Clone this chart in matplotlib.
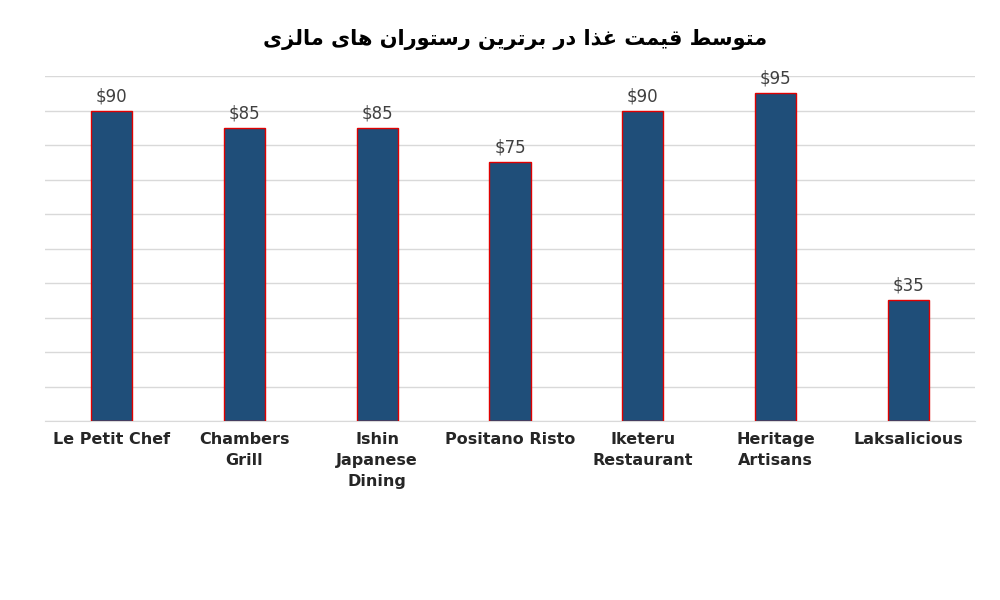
import unicodedata
import matplotlib.pyplot as plt

restaurants = ["Le Petit Chef", "Chambers\nGrill", "Ishin\nJapanese\nDining", "Positano Risto",
               "Iketeru\nRestaurant", "Heritage\nArtisans", "Laksalicious"]
prices = [90, 85, 85, 75, 90, 95, 35]
title = "متوسط قیمت غذا در برترین رستوران های مالزی"

RIGHT_ONLY = set("اآدذرزژو")


def _form(ch, kind):
    try:
        return unicodedata.lookup(unicodedata.name(ch) + " " + kind + " FORM")
    except KeyError:
        return ch


def shape(text):
    """Very small Arabic/Persian shaper, returns visual (LTR) order."""
    def joins(c):
        return "\u0600" <= c <= "\u06ff"
    out = []
    for i, ch in enumerate(text):
        if not joins(ch):
            out.append(ch)
            continue
        prev = text[i - 1] if i > 0 else ""
        nxt = text[i + 1] if i + 1 < len(text) else ""
        left = bool(prev) and joins(prev) and prev not in RIGHT_ONLY
        right = bool(nxt) and joins(nxt) and ch not in RIGHT_ONLY
        if left and right:
            out.append(_form(ch, "MEDIAL"))
        elif left:
            out.append(_form(ch, "FINAL"))
        elif right:
            out.append(_form(ch, "INITIAL"))
        else:
            out.append(_form(ch, "ISOLATED"))
    return "".join(out)[::-1]


fig = plt.figure(figsize=(10, 6), dpi=100)
ax = fig.add_axes([0.045, 0.298, 0.93, 0.575])
x = range(len(restaurants))
bars = ax.bar(x, prices, width=0.31, color="#1f4e79", edgecolor="#e00000", linewidth=1, zorder=3)
ax.bar_label(bars, labels=[f"${p}" for p in prices], padding=4, fontsize=12, color="#404040")
ax.set_ylim(0, 100)
ax.set_xlim(-0.5, len(restaurants) - 0.5)
ax.set_yticks(range(0, 101, 10))
ax.set_yticklabels([])
ax.tick_params(axis="y", length=0)
ax.tick_params(axis="x", length=0, pad=8)
ax.grid(axis="y", color="#d9d9d9", linewidth=1, zorder=0)
for s in ["top", "right", "left"]:
    ax.spines[s].set_visible(False)
ax.spines["bottom"].set_color("#d9d9d9")
ax.set_xticks(list(x))
ax.set_xticklabels(restaurants, fontsize=11.5, fontweight="bold", color="#262626", linespacing=1.5)

fig.text(0.515, 0.935, shape(title), ha="center", va="center", fontsize=15,
         fontweight="bold", family=["DejaVu Sans"])

fig.savefig("out.png")
